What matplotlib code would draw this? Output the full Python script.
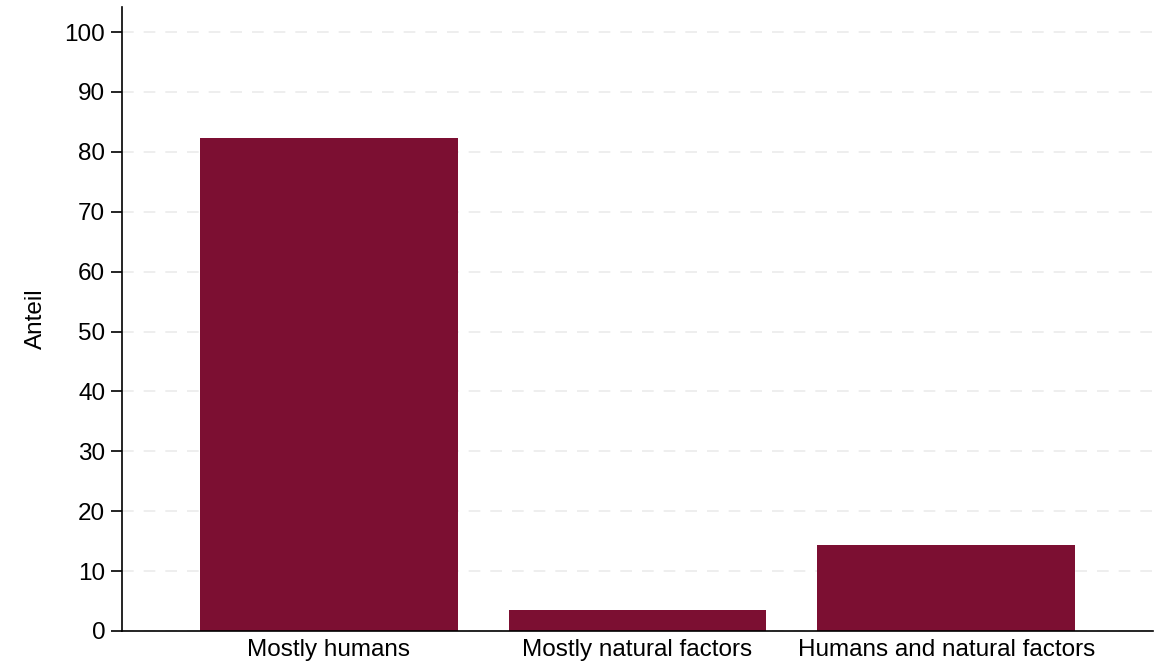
import matplotlib.pyplot as plt

plt.rcParams['font.family'] = ['Liberation Sans', 'DejaVu Sans']

categories = ["Mostly humans", "Mostly natural factors", "Humans and natural factors"]
shares = [82.3, 3.5, 14.4]
yticks = [0, 10, 20, 30, 40, 50, 60, 70, 80, 90, 100]

fig = plt.figure(figsize=(11.65, 6.66), dpi=100)
ax = fig.add_axes([0.1047, 0.0526, 0.885, 0.937])

x = range(len(categories))
ax.bar(x, shares, width=0.835, color="#7c0f32", zorder=2)

ax.set_xlim(-0.67, 2.67)
ax.set_ylim(0, 104.2)
ax.set_yticks(yticks)
ax.set_xticks(list(x))
ax.set_xticklabels(categories, fontsize=17.5)
ax.tick_params(axis="x", length=0, pad=6)
ax.tick_params(axis="y", length=8, width=1.2, labelsize=17.5, pad=4)
ax.yaxis.grid(True, color="#ebebeb", linestyle=(0, (7, 6)), linewidth=1.2, zorder=0)
ax.set_ylabel("Anteil", fontsize=17.5, labelpad=13)

for s in ["top", "right"]:
    ax.spines[s].set_visible(False)
for s in ["left", "bottom"]:
    ax.spines[s].set_linewidth(1.2)

fig.savefig("out.png", dpi=100)
